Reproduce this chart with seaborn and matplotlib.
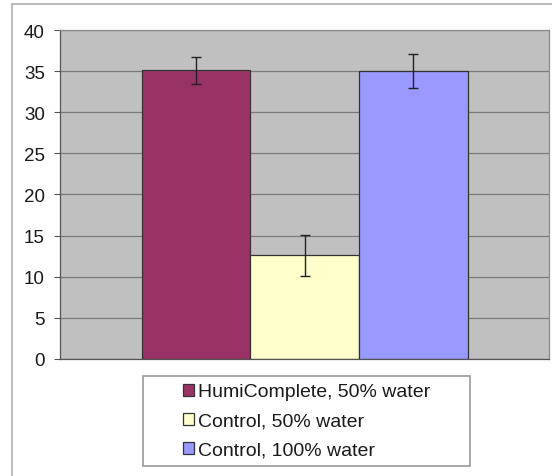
import numpy as np
import pandas as pd
import matplotlib
matplotlib.use("Agg")
import matplotlib.pyplot as plt
import seaborn as sns
from matplotlib.patches import Rectangle

# Dati
groups = ["HumiComplete, 50% water", "Control, 50% water", "Control, 100% water"]
means = [35.1, 12.6, 35.0]
errors = [1.65, 2.5, 2.1]
colors = ["#993366", "#FFFFCC", "#9999FF"]
yticks = [0, 5, 10, 15, 20, 25, 30, 35, 40]

df = pd.DataFrame({"x": ["all"] * 3, "group": groups, "value": means})

sns.set_style("white")
plt.rcParams["font.family"] = ["Liberation Sans", "DejaVu Sans"]

fig = plt.figure(figsize=(5.52, 4.77), dpi=100)
ax = fig.add_axes([0.1087, 0.2453, 0.8859, 0.6897])

# Cornice esterna del grafico
fig.patches.append(Rectangle((0.0217, -0.1), 1.2, 1.0895, transform=fig.transFigure,
                             fill=False, edgecolor="#BDBDBD", linewidth=1.5, zorder=0))
# Cornice della legenda
fig.patches.append(Rectangle((0.2591, 0.021), 0.5924, 0.1887, transform=fig.transFigure,
                             fill=False, edgecolor="#9A9A9A", linewidth=1.2, zorder=0))

ax.set_facecolor("#C0C0C0")
ax.set_axisbelow(True)
ax.yaxis.grid(True, color="#7A7A7A", linewidth=0.9)

sns.barplot(data=df, x="x", y="value", hue="group", hue_order=groups,
            palette=colors, width=1.0, errorbar=None, saturation=1,
            edgecolor="#333333", linewidth=0.9, ax=ax, legend=True)
ax.set_xlim(-0.75, 0.75)

# Barre di errore sui centri delle barre
for patch, m, e in zip(ax.patches[:3], means, errors):
    cx = patch.get_x() + patch.get_width() / 2
    ax.errorbar(cx, m, yerr=e, color="#222222", capsize=3.6, elinewidth=1.0,
                capthick=1.0, zorder=5)

ax.set_ylim(0, 40)
ax.set_yticks(yticks)
ax.set_xlabel("")
ax.set_ylabel("")
ax.set_xticks([])
ax.tick_params(axis="y", labelsize=13.5, length=4, width=0.8, color="#555555",
               direction="out", left=True, pad=7, labelcolor="#1a1a1a")

for side in ["top", "right"]:
    ax.spines[side].set_color("#8A8A8A")
    ax.spines[side].set_linewidth(0.9)
ax.spines["left"].set_color("#555555")
ax.spines["bottom"].set_color("#555555")
ax.spines["left"].set_linewidth(0.9)
ax.spines["bottom"].set_linewidth(0.9)

handles, labels = ax.get_legend_handles_labels()
ax.legend(handles, labels, loc="upper left", bbox_to_anchor=(0.3315, 0.194),
          bbox_transform=fig.transFigure, fontsize=14, frameon=False,
          handlelength=0.57, handleheight=0.57, handletextpad=0.2,
          labelspacing=0.62, borderpad=0, borderaxespad=0, labelcolor="#1a1a1a")

fig.savefig("out.png", dpi=100, facecolor="white")
